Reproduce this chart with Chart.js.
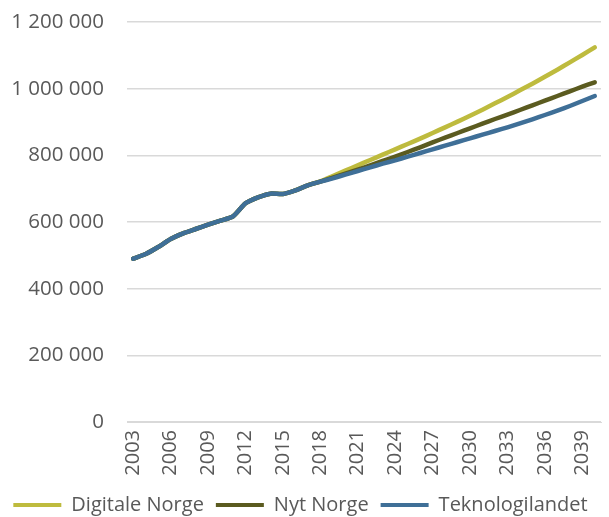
<!DOCTYPE html>
<html>
<head>
<meta charset="utf-8">
<script src="https://cdn.jsdelivr.net/npm/chart.js@4"></script>
<style>
  html, body { margin: 0; padding: 0; background: #fff; }
  #wrap { width: 609px; height: 517px; }
</style>
</head>
<body>
<div id="wrap"><canvas id="c" width="609" height="517"></canvas></div>
<script>
// Years 2003–2040
const years = [];
for (let y = 2003; y <= 2040; y++) years.push(String(y));

// Employment, shared history 2003–2017 and three scenarios to 2040
const digitaleNorge = [
  490000, 504000, 525000, 549000, 566000, 579000, 592000, 604000, 617000, 656000,
  674000, 685000, 684000, 695000, 710000,
  722000, 738000, 754000, 770000, 786000, 802000, 818000, 834000, 850000, 867000,
  884000, 901000, 919000, 937000, 956000, 975000, 995000, 1015000, 1036000, 1057000,
  1079000, 1101000, 1124000
];
const nytNorge = [
  490000, 504000, 525000, 549000, 566000, 579000, 592000, 604000, 617000, 656000,
  674000, 685000, 684000, 695000, 710000,
  721000, 733000, 745000, 757000, 770000, 783000, 796000, 810000, 824000, 839000,
  853000, 867000, 881000, 895000, 909000, 922000, 936000, 950000, 964000, 978000,
  992000, 1006000, 1019000
];
const teknologilandet = [
  490000, 504000, 525000, 549000, 566000, 579000, 592000, 604000, 617000, 656000,
  674000, 685000, 684000, 695000, 710000,
  721000, 731000, 742000, 753000, 764000, 775000, 785000, 796000, 807000, 818000,
  829000, 840000, 851000, 862000, 873000, 884000, 896000, 908000, 921000, 934000,
  948000, 963000, 978000
];
const yTicks = [0, 200000, 400000, 600000, 800000, 1000000, 1200000];

const FONT = "'Open Sans', 'Liberation Sans', sans-serif";
const GREY = '#595959';

function fmt(v) {
  return String(v).replace(/\B(?=(\d{3})+(?!\d))/g, ' ');
}

function series(label, data, color, order) {
  return {
    label, data, order,
    borderColor: color, backgroundColor: color,
    borderWidth: 4.5, pointRadius: 0, tension: 0.2,
    borderCapStyle: 'round', borderJoinStyle: 'round', fill: false
  };
}

new Chart(document.getElementById('c'), {
  type: 'line',
  data: {
    labels: years,
    datasets: [
      series('Digitale Norge', digitaleNorge, '#BEBB3E', 2),
      series('Nyt Norge', nytNorge, '#5B5B20', 1),
      series('Teknologilandet', teknologilandet, '#3F6F97', 0)
    ]
  },
  options: {
    responsive: false,
    animation: false,
    layout: { padding: { top: 22, right: 8, bottom: -8, left: 0 } },
    plugins: {
      tooltip: { enabled: false },
      legend: {
        position: 'bottom',
        labels: {
          boxWidth: 48, boxHeight: 4, padding: 12,
          color: GREY, font: { family: FONT, size: 20 },
          generateLabels(chart) {
            return chart.data.datasets.map((ds, i) => ({
              text: ds.label, fillStyle: ds.borderColor, strokeStyle: ds.borderColor,
              lineWidth: 0, datasetIndex: i, fontColor: GREY
            }));
          }
        }
      }
    },
    scales: {
      x: {
        offset: true,
        grid: { display: false, drawTicks: false },
        border: { color: '#D9D9D9', width: 1 },
        ticks: {
          color: GREY, font: { family: FONT, size: 20 },
          maxRotation: 90, minRotation: 90, autoSkip: false, padding: 8,
          callback(v, i) { return (i % 3 === 0) ? years[i] : ''; }
        },
        afterFit(s) { s.height = 61; s.paddingLeft = 0; s.paddingRight = 0; }
      },
      y: {
        min: 0, max: 1200000,
        afterBuildTicks(s) { s.ticks = yTicks.map(v => ({ value: v })); },
        grid: { color: '#D9D9D9', lineWidth: 1.5, drawTicks: false },
        border: { display: false },
        ticks: {
          color: GREY, font: { family: FONT, size: 20.5 }, padding: 23,
          callback: v => fmt(v)
        },
        afterFit(s) { s.width = 127; s.paddingTop = 0; s.paddingBottom = 0; }
      }
    }
  }
});
</script>
</body>
</html>
